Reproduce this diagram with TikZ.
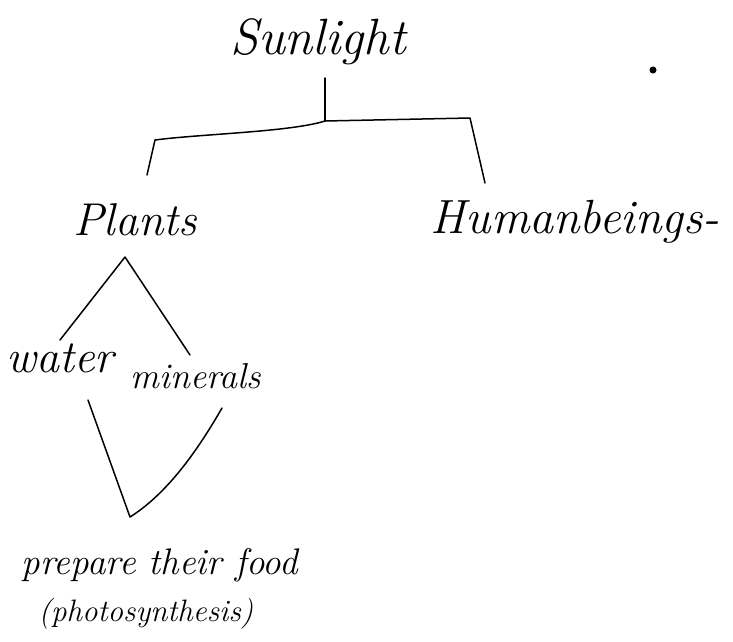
\documentclass[tikz,border=0pt]{standalone}
\begin{document}
\begin{tikzpicture}[x=1pt,y=-1pt,
  hand/.style={inner sep=0pt,font=\itshape},
  stroke/.style={line width=1.5pt,line cap=round,line join=round}]
\useasboundingbox (0,0) rectangle (733,641);
\node[hand,font=\fontsize{51}{58}\selectfont\itshape] (sun) at (318,42) {Sunlight};
\node[hand,font=\fontsize{46}{52}\selectfont\itshape] (plants) at (135,220) {Plants};
\node[hand,font=\fontsize{48}{54}\selectfont\itshape] (human) at (575,222) {Humanbeings-};
\node[hand,font=\fontsize{46}{52}\selectfont\itshape] (water) at (60,358) {water};
\node[hand,font=\fontsize{36}{44}\selectfont\itshape] (minerals) at (196,376) {minerals};
\node[hand,font=\fontsize{37}{44}\selectfont\itshape] (food) at (160,565) {prepare their food};
\node[hand,font=\fontsize{31}{36}\selectfont\itshape] (photo) at (146,614) {(photosynthesis)};
\fill (653,70) circle (3.5);
% bracket from Sunlight
\coordinate (top) at (325,78);
\coordinate (mid) at (325,121);
\coordinate (bl) at (155,140);
\coordinate (blb) at (147,175);
\coordinate (br) at (470,118);
\coordinate (brb) at (485,183);
\draw[stroke] (top) -- (mid);
\draw[stroke] (blb) -- (bl) .. controls (200,134) and (290,132) .. (mid) -- (br) -- (brb);
% Plants fork
\coordinate (apex) at (125,257);
\coordinate (wl) at (60,340);
\coordinate (mr) at (190,355);
\draw[stroke] (wl) -- (apex) -- (mr);
% V to food
\coordinate (vl) at (88,400);
\coordinate (vb) at (130,517);
\coordinate (vr) at (222,408);
\draw[stroke] (vl) -- (vb) .. controls (165,495) and (195,455) .. (vr);
\end{tikzpicture}
\end{document}
